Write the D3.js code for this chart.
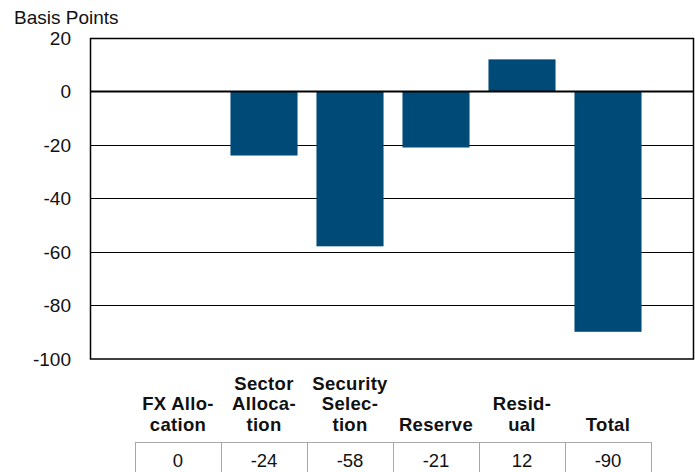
<!DOCTYPE html>
<html>
  <head>
    <meta charset="utf-8">
    <title>Basis Points Attribution</title>
    <script src="https://d3js.org/d3.v7.min.js"></script>
    <style>
      body { margin: 0; background: #fff; }
      text { font-family: "Liberation Sans", Arial, sans-serif; fill: #111; }
      .tick-label { font-size: 19px; text-anchor: end; }
      .cat-label { font-size: 18.5px; font-weight: bold; text-anchor: middle; letter-spacing: 0.3px; }
      .cell-label { font-size: 18.5px; text-anchor: middle; }
    </style>
  </head>
  <body>
    <script>
      // chart data
      var categories = ["FX Allocation", "Sector Allocation", "Security Selection", "Reserve", "Residual", "Total"];
      var labelLines = [["FX Allo-", "cation"], ["Sector", "Alloca-", "tion"], ["Security", "Selec-", "tion"], ["Reserve"], ["Resid-", "ual"], ["Total"]];
      var values = [0, -24, -58, -21, 12, -90];
      var yTicks = [20, 0, -20, -40, -60, -80, -100];

      var width = 695, height = 472;
      var plot = { left: 90, right: 694, top: 38, bottom: 358.5 };

      var svg = d3.select("body").append("svg")
        .attr("width", width)
        .attr("height", height);

      var x = d3.scaleBand()
        .domain(categories)
        .range([135, 651])
        .paddingInner(0.22)
        .paddingOuter(0.11);

      var y = d3.scaleLinear()
        .domain([-100, 20])
        .range([plot.bottom, plot.top]);

      // gridlines
      svg.append("g")
        .selectAll("line")
        .data(yTicks.filter(function(d) { return d !== 0 && d !== 20 && d !== -100; }))
        .enter()
        .append("line")
        .attr("x1", plot.left)
        .attr("x2", plot.right)
        .attr("y1", function(d) { return Math.round(y(d)) + 0.5; })
        .attr("y2", function(d) { return Math.round(y(d)) + 0.5; })
        .attr("stroke", "#000")
        .attr("stroke-width", 1);

      // bars
      svg.append("g")
        .selectAll("rect")
        .data(values)
        .enter()
        .append("rect")
        .attr("x", function(d, i) { return x(categories[i]); })
        .attr("y", function(d) { return y(Math.max(0, d)); })
        .attr("width", x.bandwidth())
        .attr("height", function(d) { return Math.abs(y(d) - y(0)); })
        .attr("fill", "#004a78");

      // zero line
      svg.append("line")
        .attr("x1", plot.left)
        .attr("x2", plot.right)
        .attr("y1", y(0))
        .attr("y2", y(0))
        .attr("stroke", "#000")
        .attr("stroke-width", 2);

      // plot border
      svg.append("rect")
        .attr("x", plot.left + 0.5)
        .attr("y", plot.top + 0.5)
        .attr("width", plot.right - plot.left - 1)
        .attr("height", plot.bottom - plot.top)
        .attr("fill", "none")
        .attr("stroke", "#000")
        .attr("stroke-width", 1.5);

      // y tick labels
      svg.append("g")
        .selectAll("text")
        .data(yTicks)
        .enter()
        .append("text")
        .attr("class", "tick-label")
        .attr("x", 71)
        .attr("y", function(d) { return y(d) + 7; })
        .text(function(d) { return d; });

      svg.append("text")
        .attr("x", 14)
        .attr("y", 24)
        .style("font-size", "19px")
        .text("Basis Points");

      // category labels
      var lineH = 20.7;
      svg.append("g")
        .selectAll("text")
        .data(categories)
        .enter()
        .append("text")
        .attr("class", "cat-label")
        .attr("x", function(d) { return x(d) + x.bandwidth() / 2; })
        .each(function(d, i) {
          var lines = labelLines[i];
          var t = d3.select(this);
          lines.forEach(function(l, j) {
            t.append("tspan")
              .attr("x", x(d) + x.bandwidth() / 2)
              .attr("y", 431 - (lines.length - 1 - j) * lineH)
              .text(l);
          });
        });

      // value table
      var step = x.step();
      var cells = svg.append("g");
      cells.selectAll("rect")
        .data(categories)
        .enter()
        .append("rect")
        .attr("x", function(d) { return x(d) - x.paddingInner() * step / 2 + 0.5; })
        .attr("y", 442.5)
        .attr("width", step)
        .attr("height", 40)
        .attr("fill", "none")
        .attr("stroke", "#a8a8a8")
        .attr("stroke-width", 1);
      cells.selectAll("text")
        .data(values)
        .enter()
        .append("text")
        .attr("class", "cell-label")
        .attr("x", function(d, i) { return x(categories[i]) + x.bandwidth() / 2; })
        .attr("y", 467)
        .text(function(d) { return d; });
    </script>
  </body>
</html>
